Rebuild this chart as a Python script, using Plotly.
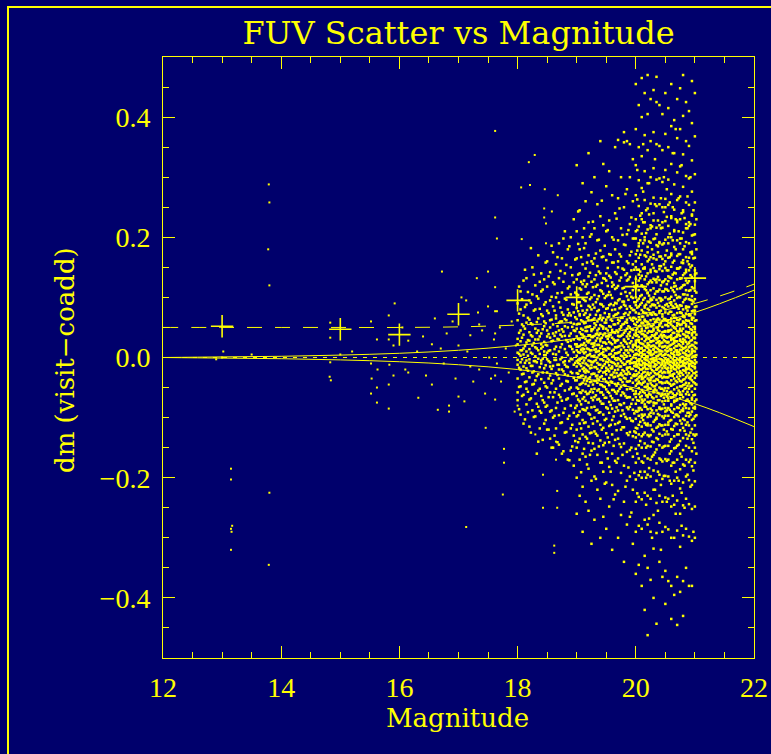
import plotly.graph_objects as go

YEL = "#ffff00"
BG = "#00006c"

# ---- sparse stars (magnitude, dm) ----
SPARSE_POINTS = [
    (13.15, -0.185), (13.15, -0.203), (13.17, -0.28), (13.15, -0.285), (13.16, -0.29), (13.15, -0.32),
    (13.0, 0.0), (13.02, 0.01), (13.79, 0.288), (13.8, 0.258), (13.78, 0.18), (13.8, 0.12),
    (13.8, -0.225), (13.79, -0.345), (13.5, 0.005), (12.9, -0.003),
    (14.83, 0.058), (14.83, 0.033), (14.83, -0.008), (14.82, -0.032), (14.84, -0.038), (15.0, 0.005), (15.2, 0.01),
    (15.52, 0.06), (15.52, -0.01), (15.53, -0.035), (15.52, -0.06), (15.62, 0.03), (15.63, -0.02), (15.62, -0.05),
    (15.62, -0.075), (15.82, 0.07), (15.82, 0.03), (15.83, -0.012), (15.82, -0.045), (15.82, -0.085),
    (15.9, 0.02), (15.9, -0.03), (15.92, 0.09),
    (16.05, 0.05), (16.1, -0.02), (16.15, 0.028), (16.15, -0.025), (16.3, 0.01), (16.32, -0.067), (16.4, 0.035),
    (16.45, -0.03), (16.55, -0.045), (16.55, 0.022), (16.6, 0.065), (16.65, -0.087), (16.7, 0.015), (16.72, 0.143),
    (16.75, -0.01), (16.8, 0.04), (16.84, -0.08), (16.84, -0.09), (16.9, 0.06), (16.95, -0.035), (17.0, -0.065),
    (17.0, 0.02),
    (17.05, 0.1), (17.1, -0.073), (17.13, 0.095), (17.13, -0.282), (17.15, 0.01), (17.2, 0.037), (17.25, -0.04),
    (17.31, 0.132), (17.33, 0.075), (17.35, -0.02), (17.4, 0.045), (17.45, -0.06), (17.46, -0.117), (17.5, 0.143),
    (17.5, 0.085), (17.52, 0.0), (17.55, -0.035), (17.6, 0.03), (17.62, 0.377), (17.62, 0.233), (17.62, 0.117),
    (17.62, 0.077), (17.62, -0.07), (17.65, 0.198), (17.65, 0.077), (17.65, -0.01), (17.7, 0.05), (17.72, -0.04),
    (17.75, -0.228), (17.77, -0.152), (17.77, -0.175), (17.8, 0.015), (17.85, -0.025), (17.9, 0.06), (17.95, -0.09),
    (17.97, 0.02), (17.62, 0.04), (17.62, -0.03), (17.35, 0.055), (17.2, -0.015),
    (18.06, 0.283), (18.07, 0.197), (18.19, 0.325), (18.21, 0.287), (18.29, 0.337), (18.45, 0.248), (18.45, 0.233),
    (18.46, 0.28), (18.48, 0.223), (18.48, 0.19), (18.58, 0.243), (18.68, 0.27), (18.3, -0.128), (18.43, -0.195),
    (18.43, -0.25), (18.67, -0.222), (18.67, -0.25), (18.62, -0.313), (18.62, -0.325), (18.65, -0.14),
    (18.65, -0.17), (18.0, -0.08),
]
SPARSE_MAG = [p[0] for p in SPARSE_POINTS]
SPARSE_DM = [p[1] for p in SPARSE_POINTS]

# ---- dense magnitude columns; dm values in thousandths ----
COL_MAG = [18.00, 18.05, 18.10, 18.15, 18.20, 18.25, 18.30, 18.35, 18.40, 18.45,
           18.50, 18.55, 18.60, 18.65, 18.70, 18.75, 18.80, 18.85, 18.90, 18.95,
           19.00, 19.05, 19.10, 19.15, 19.20, 19.25, 19.30, 19.35, 19.40, 19.45,
           19.50, 19.55, 19.60, 19.65, 19.70, 19.75, 19.80, 19.85, 19.90, 19.95,
           20.00, 20.05, 20.10, 20.15, 20.20, 20.25, 20.30, 20.35, 20.40, 20.45,
           20.50, 20.55, 20.60, 20.65, 20.70, 20.75, 20.80, 20.85, 20.90, 20.95, 21.00]
COL_DM = [
    [62, 31, 8, -12, -35, -58, 90, -4, 22, -71],
    [45, 12, -20, -48, 80, 3, -95, 27, -8, 110],
    [70, 38, 5, -27, -62, 15, -110, 52, -15, 128],
    [25, -5, -40, 88, 58, -78, 10, -18, 132, -52],
    [95, 42, 14, -9, -33, -70, 63, -115, 28, -3],
    [55, 20, -14, -45, 105, -88, 6, 35, -25, 150],
    [80, 48, 17, -6, -38, -60, 120, -98, 30, 2],
    [65, 30, -2, -28, -55, 98, -82, 12, 45, -140, 170],
    [110, 72, 40, 15, -10, -36, -64, -92, 22, -5, 140],
    [88, 52, 26, 4, -18, -42, -75, 130, -110, 60, 10],
    [118, 78, 45, 20, -3, -25, -50, -80, 160, -120, 35, 8],
    [95, 62, 33, 12, -8, -30, -58, -90, 142, -135, 50, -15],
    [125, 85, 55, 28, 6, -14, -38, -66, -100, 175, -150, 40],
    [100, 70, 42, 18, -4, -26, -52, -84, 155, -118, 65, 5],
    [132, 92, 58, 30, 10, -12, -35, -62, -96, 190, -145, 45, -20],
    [108, 75, 47, 22, 0, -20, -44, -72, -108, 165, -160, 35, 60],
    [140, 98, 64, 36, 14, -6, -28, -55, -85, -125, 210, 52, -12],
    [115, 80, 50, 26, 4, -16, -40, -68, -102, 180, -170, 70, -30],
    [150, 105, 70, 40, 18, -2, -24, -50, -80, -118, 200, -155, 58, 28],
    [125, 88, 56, 30, 9, -12, -34, -60, -92, -130, 230, -180, 45, 75],
    [320, 210, 165, 130, 105, 82, 64, 48, 35, 22, 12, 3, -6, -15, -26, -38, -50, -64, -80, -98, -120, -150, -200, -260, 55, 18],
    [245, 180, 140, 115, 92, 72, 56, 42, 30, 19, 8, -2, -11, -22, -33, -45, -58, -73, -90, -110, -135, -170, -230, 70, -5],
    [290, 200, 155, 122, 98, 78, 60, 46, 33, 21, 10, 0, -9, -19, -30, -42, -55, -69, -86, -104, -128, -160, -215, -290, 38, 15],
    [260, 190, 148, 118, 94, 74, 58, 44, 31, 20, 9, -1, -10, -20, -32, -44, -57, -72, -88, -108, -132, -165, -240, 50, -25],
    [340, 225, 170, 135, 108, 86, 67, 51, 37, 25, 14, 4, -5, -14, -24, -35, -47, -60, -75, -93, -115, -142, -185, -255, 62, 28],
    [275, 205, 160, 126, 100, 80, 62, 47, 34, 23, 12, 2, -7, -17, -28, -40, -53, -67, -83, -102, -125, -155, -205, -310, 44, -12],
    [300, 215, 165, 130, 104, 83, 65, 50, 36, 24, 13, 3, -6, -16, -27, -39, -52, -66, -82, -100, -123, -152, -198, -270, 57, 20],
    [255, 195, 152, 121, 97, 77, 60, 45, 32, 21, 10, 0, -9, -19, -30, -42, -55, -70, -87, -106, -130, -162, -220, 40, -35],
    [360, 235, 178, 140, 112, 89, 70, 54, 40, 27, 16, 6, -3, -12, -22, -33, -45, -58, -73, -91, -112, -138, -175, -235, 66, 31, -300],
    [322, 220, 168, 132, 106, 85, 66, 51, 37, 25, 14, 4, -5, -14, -25, -36, -48, -62, -77, -95, -117, -146, -190, -265, 48, 9],
    [285, 210, 162, 128, 102, 81, 63, 48, 35, 23, 12, 2, -7, -17, -28, -40, -53, -67, -83, -102, -126, -157, -208, -285, 58, -22, 140],
    [310, 228, 172, 136, 109, 87, 68, 52, 38, 26, 15, 5, -4, -13, -23, -34, -46, -59, -74, -92, -114, -141, -182, -248, 72, 35],
    [270, 200, 158, 125, 99, 79, 61, 46, 33, 22, 11, 1, -8, -18, -29, -41, -54, -68, -85, -104, -128, -160, -212, -320, 42, -15, 118],
    [350, 240, 180, 142, 114, 91, 71, 55, 41, 28, 17, 7, -2, -11, -21, -32, -44, -57, -72, -90, -111, -137, -172, -228, 80, 25],
    [362, 265, 195, 150, 119, 95, 74, 57, 42, 29, 18, 8, -1, -10, -20, -31, -43, -56, -71, -88, -109, -135, -168, -222, -300, 63, 36, 160],
    [300, 215, 168, 133, 106, 84, 66, 50, 36, 24, 13, 3, -6, -15, -26, -37, -49, -63, -79, -97, -120, -149, -192, -262, 52, -28],
    [375, 358, 250, 188, 146, 116, 93, 72, 56, 41, 28, 17, 7, -2, -12, -23, -34, -46, -60, -76, -94, -116, -143, -180, -240, -340, 88, 30],
    [360, 280, 205, 160, 128, 102, 81, 63, 48, 35, 23, 12, 2, -7, -17, -28, -40, -53, -67, -83, -102, -126, -157, -205, -278, 58, -20, 140],
    [355, 300, 222, 170, 134, 107, 85, 66, 50, 36, 24, 13, 3, -6, -16, -27, -39, -52, -66, -82, -101, -124, -154, -198, -265, 75, 42, -10],
    [330, 260, 198, 155, 124, 99, 79, 61, 46, 33, 21, 10, 0, -9, -19, -30, -42, -55, -70, -87, -106, -131, -165, -220, -310, 66, 17, 112],
    [455, 380, 320, 270, 230, 198, 172, 150, 131, 115, 100, 87, 75, 64, 54, 45, 36, 28, 20, 13, 6, -1, -8, -15, -22, -30, -38, -47, -56, -66, -77, -89, -102, -117, -133, -152, -175, -203, -240, -290, -360, 92, 41, -11, -60, 160, -125, 210, 5, 24],
    [420, 350, 295, 252, 218, 190, 166, 146, 128, 112, 98, 85, 73, 62, 52, 43, 34, 26, 18, 11, 4, -3, -10, -17, -25, -33, -42, -51, -61, -72, -84, -97, -112, -128, -146, -168, -196, -232, -280, -345, 67, 29, -6, 138, -88, 185, 12, -40],
    [465, 400, 335, 282, 240, 206, 178, 155, 136, 119, 104, 91, 79, 68, 57, 48, 39, 31, 23, 15, 8, 1, -6, -13, -20, -28, -36, -45, -54, -64, -75, -87, -100, -115, -131, -150, -173, -200, -236, -285, -380, 58, 16, -32, 120, -70, 230, 3, 44, -95],
    [440, 370, 310, 262, 225, 195, 170, 148, 130, 114, 99, 86, 74, 63, 53, 44, 35, 27, 19, 12, 5, -2, -9, -16, -24, -32, -40, -49, -59, -70, -82, -95, -109, -125, -143, -164, -190, -225, -270, -330, -420, 83, 37, -12, 150, -78, 200, -3, 61],
    [470, 405, 345, 290, 248, 213, 184, 160, 140, 122, 107, 93, 81, 70, 59, 50, 41, 32, 24, 16, 9, 2, -5, -12, -19, -27, -35, -44, -53, -63, -74, -86, -99, -113, -129, -147, -168, -195, -230, -278, -350, -462, 55, 20, -25, 108, -66, 175, -110, 0, 33, -48],
    [430, 360, 300, 256, 220, 191, 167, 146, 128, 112, 98, 85, 73, 62, 52, 43, 34, 26, 18, 11, 4, -3, -10, -18, -26, -34, -43, -52, -62, -73, -85, -98, -113, -129, -148, -170, -198, -235, -290, -370, 72, 27, -14, 142, -92, 215, 8, -38, 95],
    [445, 375, 315, 266, 228, 197, 171, 149, 131, 115, 100, 87, 75, 64, 54, 45, 36, 28, 20, 13, 6, -1, -8, -15, -23, -31, -39, -48, -58, -68, -80, -93, -107, -123, -141, -162, -188, -220, -262, -318, -400, 88, 48, -4, 165, -75, 240, 14, -55],
    [467, 425, 355, 296, 252, 216, 187, 163, 143, 125, 110, 96, 83, 71, 60, 50, 41, 32, 24, 16, 9, 2, -5, -12, -20, -28, -36, -45, -55, -65, -76, -88, -102, -117, -134, -153, -176, -205, -242, -292, -443, 63, 30, -20, 130, -100, 205, -2, 40],
    [420, 352, 298, 255, 220, 192, 168, 147, 129, 113, 99, 86, 74, 63, 53, 44, 35, 27, 19, 12, 5, -2, -9, -16, -24, -32, -41, -50, -60, -71, -83, -96, -111, -127, -146, -168, -195, -230, -275, -340, 77, 22, -30, 152, -85, 190, 10, 55],
    [405, 345, 292, 250, 216, 188, 164, 144, 126, 110, 96, 84, 72, 61, 51, 42, 33, 25, 17, 10, 3, -4, -11, -18, -26, -34, -43, -52, -62, -73, -85, -98, -113, -130, -150, -173, -202, -240, -290, -365, 68, 36, -8, 125, -60, 225, 18, -42],
    [440, 372, 312, 264, 227, 196, 170, 149, 130, 114, 100, 87, 75, 64, 54, 44, 35, 27, 19, 12, 5, -2, -9, -17, -25, -33, -42, -51, -61, -72, -84, -97, -112, -128, -147, -169, -197, -233, -282, -355, -410, 80, 43, -13, 160, -90, 250, 6, 62],
    [415, 350, 296, 254, 219, 190, 166, 145, 127, 111, 97, 85, 73, 62, 52, 43, 34, 26, 18, 11, 4, -3, -10, -17, -25, -33, -42, -51, -61, -72, -84, -97, -112, -128, -147, -170, -198, -235, -286, -372, 58, 25, -22, 135, -68, 200, -5, 45, -108],
    [455, 385, 322, 272, 232, 200, 173, 151, 132, 116, 101, 88, 76, 65, 55, 46, 37, 29, 21, 14, 7, 0, -7, -14, -22, -30, -38, -47, -57, -67, -78, -90, -104, -119, -136, -156, -180, -210, -248, -300, -380, -435, 92, 33, -18, 170, -80, 235, 12, 60],
    [395, 340, 288, 246, 212, 184, 161, 141, 124, 109, 95, 83, 71, 60, 50, 41, 32, 24, 16, 9, 2, -5, -12, -19, -27, -35, -44, -53, -63, -74, -86, -99, -114, -131, -151, -175, -205, -245, -300, -395, 66, 28, -9, 118, -72, 210, 4, 50],
    [430, 365, 308, 262, 225, 195, 169, 148, 130, 114, 99, 86, 74, 63, 53, 44, 35, 27, 19, 12, 5, -2, -9, -16, -24, -32, -41, -50, -60, -71, -83, -96, -111, -128, -147, -170, -200, -238, -288, -365, -445, 85, 38, -15, 148, -95, 228, 9, 57],
    [448, 380, 318, 268, 230, 198, 172, 150, 131, 115, 100, 87, 75, 64, 54, 45, 36, 28, 20, 13, 6, -1, -8, -15, -23, -31, -39, -48, -58, -68, -79, -91, -105, -121, -139, -160, -186, -218, -260, -315, -390, 75, 30, -25, 132, -62, 190, -4, 48],
    [470, 402, 338, 284, 242, 208, 180, 157, 137, 120, 105, 92, 80, 68, 58, 48, 39, 31, 23, 15, 8, 1, -6, -13, -21, -29, -37, -46, -56, -66, -77, -89, -102, -117, -134, -154, -178, -208, -246, -296, -372, -430, 60, 26, -10, 162, -85, 245, 15, 70],
    [425, 360, 302, 258, 222, 192, 167, 146, 128, 112, 98, 85, 73, 62, 52, 43, 34, 26, 18, 11, 4, -3, -10, -17, -25, -33, -42, -51, -61, -72, -84, -97, -112, -128, -147, -170, -198, -235, -285, -350, 82, 35, -20, 142, -78, 215, 5, 55],
    [410, 352, 298, 254, 219, 190, 166, 145, 127, 111, 97, 84, 72, 61, 51, 42, 33, 25, 17, 10, 3, -4, -11, -18, -26, -34, -43, -52, -62, -73, -85, -98, -113, -130, -150, -174, -204, -244, -298, -380, 70, 24, -14, 155, -92, 225, -2, 41],
    [460, 390, 328, 276, 236, 203, 176, 153, 134, 117, 102, 89, 77, 66, 56, 46, 37, 29, 21, 14, 7, 0, -7, -14, -22, -30, -38, -47, -57, -67, -78, -90, -104, -119, -136, -156, -181, -212, -252, -305, -380, 95, 40, -8, 172, -70, 238, 10, 63],
    [440, 368, 305, 258, 221, 191, 166, 145, 127, 111, 97, 84, 72, 61, 51, 42, 33, 25, 17, 10, 3, -4, -11, -18, -26, -34, -43, -52, -62, -73, -85, -98, -113, -130, -150, -175, -206, -248, -300, 78, 32, -16, 138, -82, 205, 2, 47],
]

# ---- interleaved magnitude columns; dm values in thousandths ----
COL2_MAG = [18.025, 18.075, 18.125, 18.175, 18.225, 18.275, 18.325, 18.375, 18.425, 18.475,
            18.525, 18.575, 18.625, 18.675, 18.725, 18.775, 18.825, 18.875, 18.925, 18.975,
            19.025, 19.075, 19.125, 19.175, 19.225, 19.275, 19.325, 19.375, 19.425, 19.475,
            19.525, 19.575, 19.625, 19.675, 19.725, 19.775, 19.825, 19.875, 19.925, 19.975,
            20.025, 20.075, 20.125, 20.175, 20.225, 20.275, 20.325, 20.375, 20.425, 20.475,
            20.525, 20.575, 20.625, 20.675, 20.725, 20.775, 20.825, 20.875, 20.925, 20.975, 21.025]
COL2_DM = [
    [41, -17, 73, -49, 6, -86, 118],
    [-28, 55, 12, -64, 97, -3, 33],
    [84, -41, 19, -9, -103, 48, 146],
    [-22, 66, -57, 3, 109, -91, 29],
    [37, -68, 91, -14, 8, -125, 57, 182],
    [-44, 24, -6, 78, -99, 138, -23],
    [59, -31, 102, -77, 15, -8, -160, 41],
    [-16, 81, -52, 35, -118, 6, 126, -89],
    [47, -25, 113, -71, -2, 69, -137, 18],
    [92, -48, 21, -104, 57, -13, 158, -82, 4],
    [-35, 74, 11, -66, 135, -120, 39, -6],
    [63, -19, 101, -88, 27, -150, 186, -43],
    [-58, 36, -4, 122, -97, 78, 14, -130],
    [107, -29, 52, -75, -12, 167, -141, 31],
    [-47, 83, 17, -109, 60, -3, 144, -66, 38],
    [71, -23, 126, -92, 43, -8, -156, 198],
    [-39, 96, 8, -70, 154, -124, 29, -15, 62],
    [118, -53, 36, -97, 74, -6, -171, 185, 19],
    [-26, 89, -61, 14, 137, -112, 51, -3, -148],
    [67, -38, 108, -84, 22, 163, -139, -9, 44],
    [138, -52, 77, -9, 31, -96, 104, -27, 9, -141, 56, 189, -70, 18, -33, 92, -4, 243],
    [-44, 113, 21, -78, 62, -14, 167, -118, 39, -2, 86, -59, 13, -191, 126, -31, 48],
    [96, -23, 57, -109, 14, 182, -66, 35, -5, 128, -87, 71, -38, 24, -152, 7, -17, 215],
    [-61, 44, 122, -12, 79, -135, 27, -39, 158, 3, -84, 66, -22, 106, -178, 15, 51],
    [71, -33, 141, 6, -95, 52, -18, 97, -57, 29, 201, -126, 12, -6, 84, -41, 37, -162],
    [-27, 88, 18, -71, 156, -45, 63, -110, 34, -8, 117, 2, -143, 47, -58, 226, 23],
    [118, -39, 54, -16, 92, -127, 28, 71, -63, 9, -88, 173, -4, 39, -202, 14, -31, 137],
    [-53, 79, 11, -92, 143, 37, -24, 64, -148, 4, 102, -69, 21, -12, 196, -37, 48],
    [62, -17, 124, -77, 33, -46, 88, 7, -120, 167, -31, 52, -3, -175, 110, 19, -58, 261],
    [-36, 99, 25, -104, 58, -11, 186, -67, 40, 3, -142, 131, -24, 74, 14, -49, -210],
    [104, -42, 67, -8, 149, -85, 31, -20, 82, -133, 16, 212, -57, 45, -2, 119, -168, 36],
    [-64, 51, 133, -18, 89, -112, 24, 6, -40, 171, -79, 63, -7, 104, -190, 38, -29],
    [87, -25, 42, -98, 158, 13, -54, 121, -9, 69, -147, 30, -33, 196, 3, -72, 55, -236],
    [-47, 116, 28, -83, 72, -14, 231, -121, 45, 7, -60, 139, -26, 90, -175, 17, -4],
    [128, -36, 61, -3, 97, -107, 35, -52, 172, 19, -78, 82, -15, -144, 248, 9, -29, 47],
    [-58, 93, 20, -116, 148, -21, 66, 2, -88, 115, -41, 38, -162, 204, -9, 55, -30],
    [109, -27, 74, -64, 12, 187, -99, 44, -11, 137, -47, 26, -215, 86, 4, -35, 59, 272],
    [-40, 130, 31, -86, 96, -17, 212, -129, 52, 8, -66, 157, -24, 71, -183, 18, -6, 39],
    [82, -52, 145, -9, 63, -105, 27, -34, 176, 12, -77, 101, -19, -150, 233, 47, -3, -258],
    [-31, 118, 38, -93, 79, -14, 198, -123, 56, 4, -61, 146, -28, 92, -192, 21, -8, 66],
    [146, -44, 83, -12, 212, -118, 37, 6, -71, 120, -28, 59, -160, 263, 17, -5, 95, -36, 178, -90, 29, -226, 48, -15, 312],
    [-58, 102, 24, -139, 171, -20, 63, -84, 8, 236, -43, 132, -107, 42, -3, 88, -190, 15, -31, 195, -66, 53, -12, 143],
    [118, -35, 68, -97, 190, 5, -57, 148, -18, 39, -128, 276, 22, -73, 96, -9, -175, 57, -42, 225, 11, -104, 76, -25, 355],
    [-49, 135, 30, -82, 207, -11, 74, -150, 49, -4, 112, -63, 17, -200, 168, -30, 88, 2, -112, 245, -19, 60, -245, 36],
    [103, -29, 163, -75, 44, -8, 238, -131, 21, 79, -51, 125, -14, -184, 56, 7, -95, 193, -38, 31, -268, 92, 13, -60, 290],
    [-66, 88, 19, -120, 155, -33, 52, -7, 218, -88, 37, 125, -46, 4, -165, 71, -21, 180, 27, -140, 96, -2, -300, 43],
    [129, -53, 72, -15, 198, -104, 33, -39, 106, 9, -76, 255, -26, 59, -158, 18, 87, -5, -220, 144, -48, 38, -11, 330],
    [-37, 110, 46, -94, 175, -18, 65, -136, 26, 3, 228, -59, 91, -27, -190, 14, 134, -71, 50, -8, -255, 185, 32, -115],
    [94, -22, 152, -64, 38, -113, 215, 6, -41, 78, -170, 24, -13, 120, -86, 265, 57, -31, -212, 11, 98, -52, 168, -3, -320],
    [-55, 127, 29, -101, 82, -14, 190, -148, 43, -6, 110, -67, 18, 242, -32, -197, 64, 4, -120, 155, -24, 37, -78, 300],
    [113, -40, 61, -8, 234, -123, 25, -56, 145, 10, -88, 89, -19, -172, 178, 33, -4, -240, 54, -33, 122, -65, 16, 280],
    [-44, 98, 20, -87, 167, -25, 57, -140, 35, 206, -12, 76, -58, 2, -205, 133, -30, 45, -105, 258, 14, -7, 91, -160],
    [138, -31, 70, -120, 41, -9, 195, -66, 23, 112, -45, -175, 85, -16, 250, 6, -92, 158, -28, 52, -230, 31, -3, -60, 340],
    [-63, 119, 34, -95, 180, -20, 66, -150, 12, 230, -39, 89, -5, -190, 140, 27, -72, 48, -13, -260, 104, -110, 19, 380],
    [101, -27, 56, -84, 210, -12, 148, -128, 38, 4, -55, 81, -205, 22, -36, 172, 9, -98, 265, -18, 62, -145, 43, -4],
    [-48, 132, 26, -110, 74, -7, 198, -62, 44, 1, -165, 117, -26, -225, 86, 18, -88, 158, -40, 55, -280, 240, 12, -14, 320],
    [121, -36, 67, -14, 185, -104, 29, -52, 140, 7, -80, 96, -22, -180, 232, 38, -3, -122, 58, -45, 16, -250, 105, -9],
    [-57, 104, 22, -92, 160, -19, 61, -135, 36, 215, -8, 84, -47, 3, -195, 124, -30, 42, -70, 268, 13, -108, 78, -2],
    [96, -32, 150, -76, 47, -11, 222, -125, 19, 70, -48, -170, 112, -20, 175, 5, -95, 300, -36, 57, -215, 28, -6, 137],
    [-41, 115, 33, -102, 78, -15, 204, -142, 51, 2, -63, 165, -26, 93, -188, 20, -84, 245, -9, 42, -128, 66, -290, 11],
    [62, -24, 108, -70, 15, -128, 180, -8, 38, -45, 85, -160, 24, 140, -96, 4, -30, 230],
]

# ---- binned scatter (crosses) ----
CROSS_MAG = [13, 15, 16, 17, 18, 19, 20, 21]
CROSS_DM = [0.052, 0.047, 0.038, 0.072, 0.095, 0.100, 0.118, 0.132]

# ---- model curves ----
CURVE_MAG = [12, 13, 14, 15, 16, 17, 18, 19, 20, 21, 22]
UPPER_DM = [0.0, 0.001, 0.002, 0.004, 0.007, 0.012, 0.020, 0.032, 0.050, 0.075, 0.112]
LOWER_DM = [0.0, -0.001, -0.002, -0.004, -0.007, -0.012, -0.020, -0.033, -0.051, -0.077, -0.115]
DASH_DM = [0.050, 0.050, 0.050, 0.050, 0.050, 0.051, 0.054, 0.059, 0.071, 0.090, 0.122]
ZERO_MAG = [12, 22]
ZERO_DM = [0.0, 0.0]

X_TICKS = [12, 14, 16, 18, 20, 22]
Y_TICKS = [-0.4, -0.2, 0.0, 0.2, 0.4]

col_x, col_y = [], []
for mags, dms in ((COL_MAG, COL_DM), (COL2_MAG, COL2_DM)):
    for m, vals in zip(mags, dms):
        col_x += [m] * len(vals)
        col_y += [v / 1000.0 for v in vals]

fig = go.Figure()
fig.add_trace(go.Scatter(x=SPARSE_MAG, y=SPARSE_DM, mode="markers",
                         marker=dict(symbol="square", size=2, color=YEL, line=dict(width=0)),
                         hoverinfo="skip"))
fig.add_trace(go.Scatter(x=col_x, y=col_y, mode="markers",
                         marker=dict(symbol="square", size=2.5, color=YEL, line=dict(width=0)),
                         hoverinfo="skip"))
fig.add_trace(go.Scatter(x=ZERO_MAG, y=ZERO_DM, mode="lines",
                         line=dict(color=YEL, width=1, dash="4px,6px")))
fig.add_trace(go.Scatter(x=CURVE_MAG, y=UPPER_DM, mode="lines", line_shape="spline",
                         line=dict(color=YEL, width=1)))
fig.add_trace(go.Scatter(x=CURVE_MAG, y=LOWER_DM, mode="lines", line_shape="spline",
                         line=dict(color=YEL, width=1)))
fig.add_trace(go.Scatter(x=CURVE_MAG, y=DASH_DM, mode="lines", line_shape="spline",
                         line=dict(color=YEL, width=1, dash="15px,13px")))
fig.add_trace(go.Scatter(x=CROSS_MAG, y=CROSS_DM, mode="markers",
                         marker=dict(symbol="cross-thin-open", size=16, color=YEL,
                                     line=dict(color=YEL, width=1.6))))

axis_common = dict(
    showline=True, linecolor=YEL, linewidth=1, mirror="allticks",
    ticks="inside", ticklen=12, tickwidth=1, tickcolor=YEL,
    showgrid=False, zeroline=False, automargin=False,
    tickfont=dict(family="Liberation Serif", size=28, color=YEL),
)

fig.update_layout(
    width=771, height=754,
    margin=dict(l=163, r=17, t=57, b=96, autoexpand=False),
    paper_bgcolor=BG, plot_bgcolor=BG,
    showlegend=False,
    title=dict(text="FUV Scatter vs Magnitude", x=458.5 / 771, xanchor="center",
               y=1 - 33 / 754, yanchor="middle",
               font=dict(family="DejaVu Serif", size=32, color=YEL)),
    xaxis=dict(range=[12, 22], tickvals=X_TICKS, ticklabelstandoff=4,
               minor=dict(ticks="inside", dtick=0.5, ticklen=6, tickcolor=YEL, tickwidth=1, showgrid=False),
               **axis_common),
    yaxis=dict(range=[-0.5, 0.5], tickvals=Y_TICKS, tickformat=".1f", ticklabelstandoff=6,
               minor=dict(ticks="inside", dtick=0.05, ticklen=6, tickcolor=YEL, tickwidth=1, showgrid=False),
               **axis_common),
    annotations=[
        dict(text="Magnitude", xref="paper", yref="paper", x=(457 - 163) / 591, y=(658 - 718) / 601,
             xanchor="center", yanchor="middle", showarrow=False,
             font=dict(family="DejaVu Serif", size=26, color=YEL)),
        dict(text="dm (visit\u2212coadd)", xref="paper", yref="paper", x=(65 - 163) / 591, y=(658 - 360) / 601,
             xanchor="center", yanchor="middle", showarrow=False, textangle=-90,
             font=dict(family="DejaVu Serif", size=26, color=YEL)),
    ],
    shapes=[
        dict(type="rect", xref="paper", yref="paper",
             x0=(8 - 163) / 591, x1=(790 - 163) / 591, y0=(658 - 790) / 601, y1=(658 - 7) / 601,
             line=dict(color=YEL, width=2), fillcolor="rgba(0,0,0,0)", layer="above"),
    ],
)

fig.write_html("out.html")
